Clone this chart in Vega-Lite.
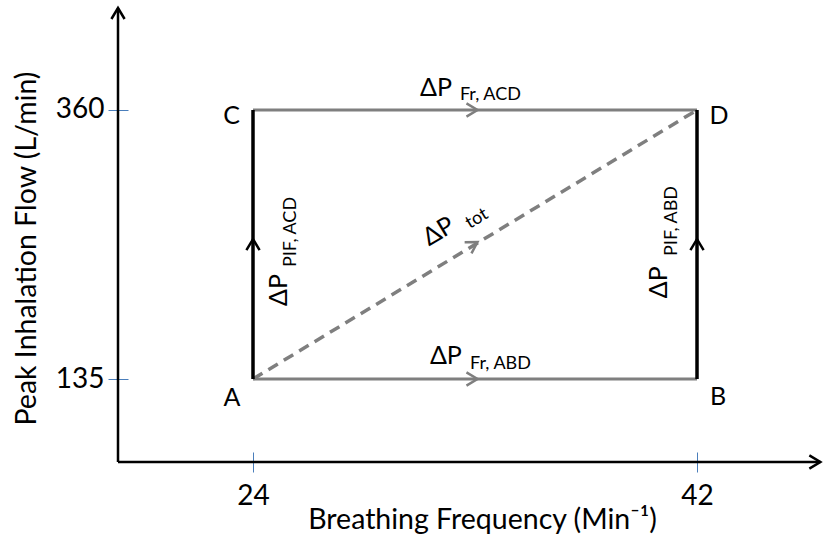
{
  "$schema": "https://vega.github.io/schema/vega-lite/v6.json",
  "width": 702,
  "height": 452,
  "autosize": "none",
  "padding": {"left": 118, "top": 10, "right": 3, "bottom": 76},
  "background": "white",
  "config": {"view": {"stroke": null}, "font": "Lato"},
  "datasets": {
    "paths": [
      {"path": "A→C", "kind": "pif", "bf": 24, "pif": 135, "bf2": 24, "pif2": 360},
      {"path": "B→D", "kind": "pif", "bf": 42, "pif": 135, "bf2": 42, "pif2": 360},
      {"path": "A→B", "kind": "fr", "bf": 24, "pif": 135, "bf2": 42, "pif2": 135},
      {"path": "C→D", "kind": "fr", "bf": 24, "pif": 360, "bf2": 42, "pif2": 360},
      {"path": "A→D", "kind": "tot", "bf": 24, "pif": 135, "bf2": 42, "pif2": 360}
    ],
    "axislines": [
      {"axis": "x", "bf": 18.527, "pif": 65.58, "bf2": 47.0, "pif2": 65.58},
      {"axis": "y", "bf": 18.527, "pif": 65.58, "bf2": 18.527, "pif2": 445.3}
    ],
    "heads": [
      {"path": "A→C", "dir": "up", "bf": 24, "pif": 252},
      {"path": "B→D", "dir": "up", "bf": 42, "pif": 252},
      {"path": "y-axis", "dir": "up", "bf": 18.527, "pif": 445.3},
      {"path": "A→B", "dir": "right", "bf": 33.1, "pif": 135},
      {"path": "C→D", "dir": "right", "bf": 33.1, "pif": 360},
      {"path": "x-axis", "dir": "rightaxis", "bf": 47.0, "pif": 65.58},
      {"path": "A→D", "dir": "diag", "bf": 33.1, "pif": 249.5}
    ],
    "letters": [
      {"pt": "A", "bf": 23.15, "pif": 119.4},
      {"pt": "B", "bf": 42.85, "pif": 119.9},
      {"pt": "C", "bf": 23.13, "pif": 355.0},
      {"pt": "D", "bf": 42.89, "pif": 355.0}
    ],
    "dp": [
      {"term": "Fr, ACD", "dir": "h", "bf": 31.42, "pif": 378.4},
      {"term": "Fr, ABD", "dir": "h", "bf": 31.82, "pif": 154.2},
      {"term": "PIF, ACD", "dir": "v", "bf": 25.05, "pif": 209.4},
      {"term": "PIF, ABD", "dir": "v", "bf": 40.46, "pif": 216.0},
      {"term": "tot", "dir": "d", "bf": 31.52, "pif": 258.5}
    ],
    "subs": [
      {"term": "Fr, ACD", "dir": "h", "bf": 32.39, "pif": 372.5},
      {"term": "Fr, ABD", "dir": "h", "bf": 32.8, "pif": 147.5},
      {"term": "PIF, ACD", "dir": "v", "bf": 25.54, "pif": 258.0},
      {"term": "PIF, ABD", "dir": "v", "bf": 41.0, "pif": 267.2},
      {"term": "tot", "dir": "d", "bf": 33.08, "pif": 269.0}
    ]
  },
  "layer": [
    {
      "data": {"name": "axislines"},
      "mark": {"type": "rule", "color": "black", "strokeWidth": 2.5},
      "encoding": {
        "x": {
          "field": "bf", "type": "quantitative",
          "scale": {"domain": [18.527, 46.986], "nice": false, "zero": false},
          "axis": {
            "values": [24, 42], "offset": -10, "tickSize": 20, "tickColor": "#4a7ebb", "tickWidth": 1,
            "domain": false, "grid": false,
            "labelFont": "Lato", "labelFontSize": 28, "labelColor": "black", "labelPadding": 10, "labelDx": 5,
            "title": "Breathing Frequency (Min⁻¹)", "titleFont": "Lato", "titleFontSize": 28.5,
            "titleFontWeight": "normal", "titleColor": "black", "titlePadding": -5, "titleX": 364
          }
        },
        "y": {
          "field": "pif", "type": "quantitative",
          "scale": {"domain": [65.58, 443.64], "nice": false, "zero": false},
          "axis": {
            "values": [135, 360], "offset": -10, "tickSize": 20, "tickColor": "#4a7ebb", "tickWidth": 1,
            "domain": false, "grid": false,
            "labelFont": "Lato", "labelFontSize": 28, "labelColor": "black", "labelPadding": 4,
            "title": "Peak Inhalation Flow (L/min)", "titleFont": "Lato", "titleFontSize": 28.5,
            "titleFontWeight": "normal", "titleColor": "black", "titlePadding": 14, "titleY": 238
          }
        },
        "x2": {"field": "bf2"},
        "y2": {"field": "pif2"}
      }
    },
    {
      "data": {"name": "paths"},
      "transform": [{"filter": "datum.kind === 'fr'"}],
      "mark": {"type": "rule", "color": "#7f7f7f", "strokeWidth": 3.2},
      "encoding": {
        "x": {"field": "bf", "type": "quantitative"},
        "y": {"field": "pif", "type": "quantitative"},
        "x2": {"field": "bf2"},
        "y2": {"field": "pif2"}
      }
    },
    {
      "data": {"name": "paths"},
      "transform": [{"filter": "datum.kind === 'tot'"}],
      "mark": {"type": "rule", "color": "#7f7f7f", "strokeWidth": 3.5, "strokeDash": [11, 7]},
      "encoding": {
        "x": {"field": "bf", "type": "quantitative"},
        "y": {"field": "pif", "type": "quantitative"},
        "x2": {"field": "bf2"},
        "y2": {"field": "pif2"}
      }
    },
    {
      "data": {"name": "paths"},
      "transform": [{"filter": "datum.kind === 'pif'"}],
      "mark": {"type": "rule", "color": "black", "strokeWidth": 3.5},
      "encoding": {
        "x": {"field": "bf", "type": "quantitative"},
        "y": {"field": "pif", "type": "quantitative"},
        "x2": {"field": "bf2"},
        "y2": {"field": "pif2"}
      }
    },
    {
      "data": {"name": "heads"},
      "transform": [{"filter": "datum.dir === 'up'"}],
      "mark": {"type": "point", "shape": "M-0.6,1L0,0L0.6,1", "filled": false, "stroke": "black", "strokeWidth": 2.5, "size": 484, "opacity": 1, "angle": 0},
      "encoding": {
        "x": {"field": "bf", "type": "quantitative"},
        "y": {"field": "pif", "type": "quantitative"}
      }
    },
    {
      "data": {"name": "heads"},
      "transform": [{"filter": "datum.dir === 'rightaxis'"}],
      "mark": {"type": "point", "shape": "M-0.6,1L0,0L0.6,1", "filled": false, "stroke": "black", "strokeWidth": 2.5, "size": 484, "opacity": 1, "angle": 90},
      "encoding": {
        "x": {"field": "bf", "type": "quantitative"},
        "y": {"field": "pif", "type": "quantitative"}
      }
    },
    {
      "data": {"name": "heads"},
      "transform": [{"filter": "datum.dir === 'right'"}],
      "mark": {"type": "point", "shape": "M-0.6,1L0,0L0.6,1", "filled": false, "stroke": "#7f7f7f", "strokeWidth": 2.5, "size": 484, "opacity": 1, "angle": 90},
      "encoding": {
        "x": {"field": "bf", "type": "quantitative"},
        "y": {"field": "pif", "type": "quantitative"}
      }
    },
    {
      "data": {"name": "heads"},
      "transform": [{"filter": "datum.dir === 'diag'"}],
      "mark": {"type": "point", "shape": "M-0.6,1L0,0L0.6,1", "filled": false, "stroke": "#7f7f7f", "strokeWidth": 2.5, "size": 484, "opacity": 1, "angle": 58.8},
      "encoding": {
        "x": {"field": "bf", "type": "quantitative"},
        "y": {"field": "pif", "type": "quantitative"}
      }
    },
    {
      "data": {"name": "letters"},
      "mark": {"type": "text", "font": "Lato", "fontSize": 25, "color": "black", "align": "center", "baseline": "middle"},
      "encoding": {
        "x": {"field": "bf", "type": "quantitative"},
        "y": {"field": "pif", "type": "quantitative"},
        "text": {"field": "pt"}
      }
    },
    {
      "data": {"name": "dp"},
      "transform": [{"filter": "datum.dir === 'h'"}],
      "mark": {"type": "text", "font": "Lato", "fontSize": 25, "color": "black", "align": "center", "baseline": "middle"},
      "encoding": {
        "x": {"field": "bf", "type": "quantitative"},
        "y": {"field": "pif", "type": "quantitative"},
        "text": {"value": "ΔP"}
      }
    },
    {
      "data": {"name": "dp"},
      "transform": [{"filter": "datum.dir === 'v'"}],
      "mark": {"type": "text", "font": "Lato", "fontSize": 25, "color": "black", "align": "center", "baseline": "middle", "angle": -90},
      "encoding": {
        "x": {"field": "bf", "type": "quantitative"},
        "y": {"field": "pif", "type": "quantitative"},
        "text": {"value": "ΔP"}
      }
    },
    {
      "data": {"name": "dp"},
      "transform": [{"filter": "datum.dir === 'd'"}],
      "mark": {"type": "text", "font": "Lato", "fontSize": 25, "color": "black", "align": "center", "baseline": "middle", "angle": -31},
      "encoding": {
        "x": {"field": "bf", "type": "quantitative"},
        "y": {"field": "pif", "type": "quantitative"},
        "text": {"value": "ΔP"}
      }
    },
    {
      "data": {"name": "subs"},
      "transform": [{"filter": "datum.dir === 'h'"}],
      "mark": {"type": "text", "font": "Lato", "fontSize": 18, "color": "black", "align": "left", "baseline": "middle"},
      "encoding": {
        "x": {"field": "bf", "type": "quantitative"},
        "y": {"field": "pif", "type": "quantitative"},
        "text": {"field": "term"}
      }
    },
    {
      "data": {"name": "subs"},
      "transform": [{"filter": "datum.dir === 'v'"}],
      "mark": {"type": "text", "font": "Lato", "fontSize": 18, "color": "black", "align": "center", "baseline": "middle", "angle": -90},
      "encoding": {
        "x": {"field": "bf", "type": "quantitative"},
        "y": {"field": "pif", "type": "quantitative"},
        "text": {"field": "term"}
      }
    },
    {
      "data": {"name": "subs"},
      "transform": [{"filter": "datum.dir === 'd'"}],
      "mark": {"type": "text", "font": "Lato", "fontSize": 18, "color": "black", "align": "center", "baseline": "middle", "angle": -31},
      "encoding": {
        "x": {"field": "bf", "type": "quantitative"},
        "y": {"field": "pif", "type": "quantitative"},
        "text": {"field": "term"}
      }
    }
  ]
}
